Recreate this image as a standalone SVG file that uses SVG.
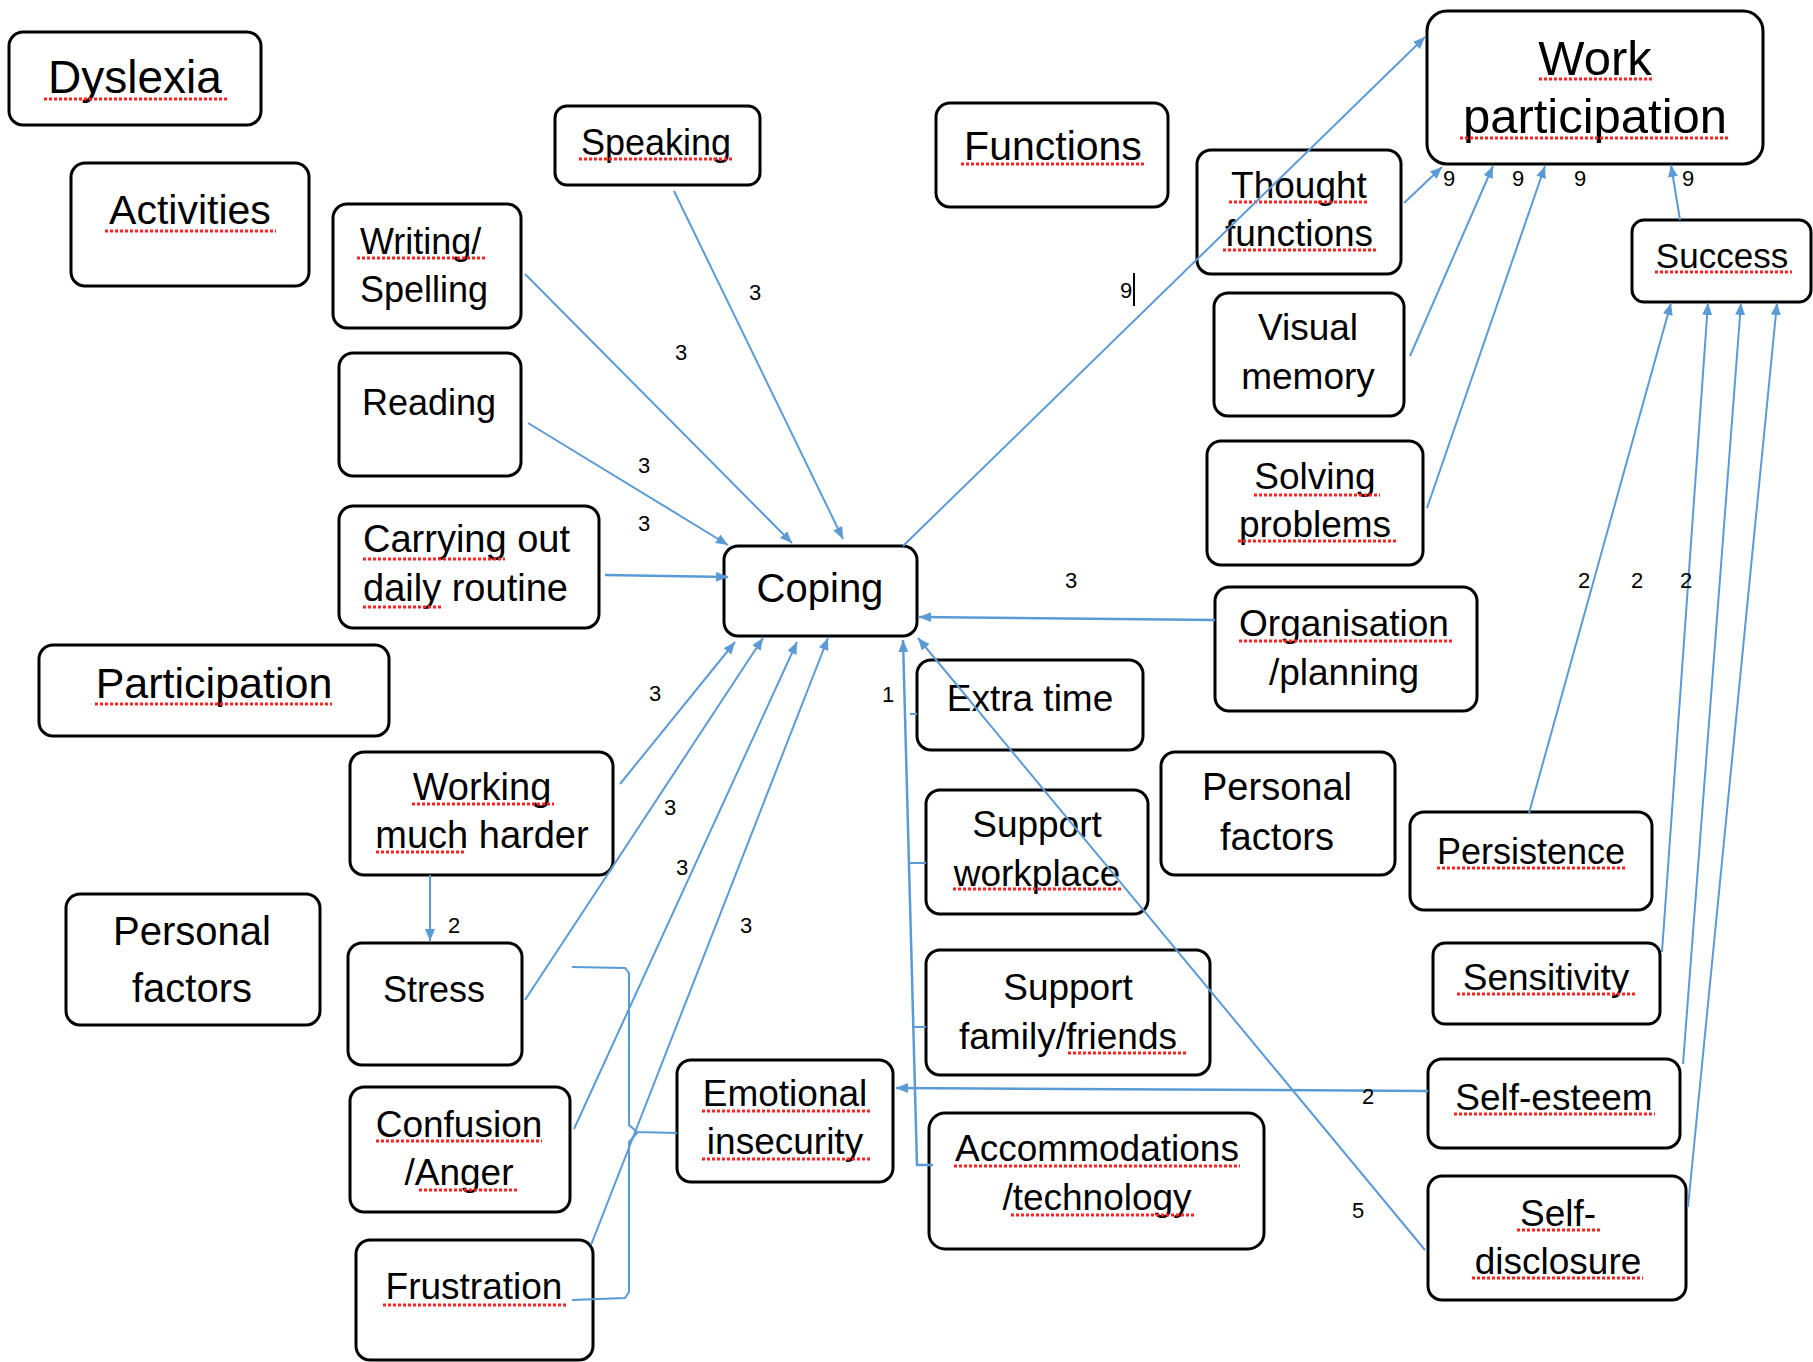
<svg xmlns="http://www.w3.org/2000/svg" width="1813" height="1362" viewBox="0 0 1813 1362">
<style>
.box{fill:#fff;stroke:#000;stroke-width:3}
.t{font-family:"Liberation Sans",Arial,sans-serif;fill:#000}
.m{text-anchor:middle}
.c{stroke:#5B9BD5;stroke-width:2;fill:none}
.lbl{font-family:"Liberation Sans",Arial,sans-serif;font-size:22px;fill:#000;text-anchor:middle}
.sq{stroke:#f22;stroke-width:3;stroke-dasharray:3 2;fill:none}
</style>
<defs>
<marker id="ah" markerUnits="userSpaceOnUse" markerWidth="14" markerHeight="12" refX="12" refY="5" orient="auto"><path d="M0,0 L12,5 L0,10 z" fill="#5B9BD5"/></marker>
</defs>
<rect width="1813" height="1362" fill="#fff"/>
<g id="nodes">
<g id="dyslexia"><rect class="box" x="9" y="32" width="252" height="93" rx="14"/><text class="t m" x="135" y="93" font-size="46">Dyslexia</text><path class="sq" d="M44,99 H228"/></g>
<g id="activities"><rect class="box" x="71" y="163" width="238" height="123" rx="14"/><text class="t m" x="190" y="224" font-size="41">Activities</text><path class="sq" d="M105,231 H276"/></g>
<g id="speaking"><rect class="box" x="555" y="106" width="205" height="79" rx="12"/><text class="t m" x="656" y="155" font-size="36">Speaking</text><path class="sq" d="M579,159 H732"/></g>
<g id="writing"><rect class="box" x="333" y="204" width="188" height="124" rx="14"/><text class="t" x="360" y="254" font-size="36">Writing/</text><text class="t" x="360" y="302" font-size="36">Spelling</text><path class="sq" d="M357,258 H485"/></g>
<g id="reading"><rect class="box" x="339" y="353" width="182" height="123" rx="14"/><text class="t" x="362" y="415" font-size="36">Reading</text></g>
<g id="carrying"><rect class="box" x="339" y="506" width="260" height="122" rx="14"/><text class="t" x="363" y="552" font-size="38">Carrying out</text><text class="t" x="363" y="601" font-size="38">daily routine</text><path class="sq" d="M363,559 H505 M363,607 H441"/></g>
<g id="coping"><rect class="box" x="724" y="546" width="193" height="90" rx="14"/><text class="t m" x="820" y="602" font-size="40">Coping</text></g>
<g id="functions"><rect class="box" x="936" y="103" width="232" height="104" rx="14"/><text class="t m" x="1053" y="160" font-size="41">Functions</text><path class="sq" d="M961,164 H1145"/></g>
<g id="work"><rect class="box" x="1427" y="11" width="336" height="153" rx="20"/><text class="t m" x="1595" y="75" font-size="49">Work</text><text class="t m" x="1595" y="133" font-size="49">participation</text><path class="sq" d="M1539,79 H1653 M1460,138 H1730"/></g>
<g id="thought"><rect class="box" x="1197" y="150" width="204" height="124" rx="14"/><text class="t m" x="1299" y="198" font-size="37">Thought</text><text class="t m" x="1299" y="246" font-size="37">functions</text><path class="sq" d="M1229,202 H1369 M1223,250 H1376"/></g>
<g id="visual"><rect class="box" x="1214" y="293" width="190" height="123" rx="14"/><text class="t m" x="1308" y="340" font-size="37">Visual</text><text class="t m" x="1308" y="389" font-size="37">memory</text></g>
<g id="solving"><rect class="box" x="1207" y="441" width="216" height="124" rx="14"/><text class="t m" x="1315" y="489" font-size="37">Solving</text><text class="t m" x="1315" y="537" font-size="37">problems</text><path class="sq" d="M1254,495 H1380 M1238,541 H1398"/></g>
<g id="organisation"><rect class="box" x="1215" y="587" width="262" height="124" rx="14"/><text class="t m" x="1344" y="636" font-size="37">Organisation</text><text class="t m" x="1344" y="685" font-size="37">/planning</text><path class="sq" d="M1239,641 H1454"/></g>
<g id="success"><rect class="box" x="1632" y="220" width="179" height="82" rx="12"/><text class="t m" x="1722" y="268" font-size="35">Success</text><path class="sq" d="M1655,272 H1792"/></g>
<g id="participation"><rect class="box" x="39" y="645" width="350" height="91" rx="14"/><text class="t m" x="214" y="698" font-size="43">Participation</text><path class="sq" d="M95,704 H332"/></g>
<g id="working"><rect class="box" x="350" y="752" width="263" height="123" rx="14"/><text class="t m" x="482" y="800" font-size="38">Working</text><text class="t m" x="482" y="848" font-size="38">much harder</text><path class="sq" d="M412,804 H554 M376,852 H465"/></g>
<g id="personal1"><rect class="box" x="66" y="894" width="254" height="131" rx="14"/><text class="t m" x="192" y="945" font-size="40">Personal</text><text class="t m" x="192" y="1002" font-size="40">factors</text></g>
<g id="stress"><rect class="box" x="348" y="943" width="174" height="122" rx="14"/><text class="t m" x="434" y="1002" font-size="36">Stress</text></g>
<g id="confusion"><rect class="box" x="350" y="1087" width="220" height="125" rx="14"/><text class="t m" x="459" y="1137" font-size="37">Confusion</text><text class="t m" x="459" y="1185" font-size="37">/Anger</text><path class="sq" d="M376,1141 H542 M419,1190 H519"/></g>
<g id="frustration"><rect class="box" x="356" y="1240" width="237" height="120" rx="14"/><text class="t m" x="474" y="1299" font-size="37">Frustration</text><path class="sq" d="M383,1305 H567"/></g>
<g id="emotional"><rect class="box" x="677" y="1060" width="216" height="122" rx="14"/><text class="t m" x="785" y="1106" font-size="37">Emotional</text><text class="t m" x="785" y="1154" font-size="37">insecurity</text><path class="sq" d="M702,1111 H870 M702,1159 H870"/></g>
<g id="extratime"><rect class="box" x="917" y="660" width="226" height="90" rx="14"/><text class="t m" x="1030" y="711" font-size="37">Extra time</text></g>
<g id="supportwork"><rect class="box" x="926" y="790" width="222" height="124" rx="14"/><text class="t m" x="1037" y="837" font-size="37">Support</text><text class="t m" x="1037" y="886" font-size="37">workplace</text><path class="sq" d="M953,889 H1123"/></g>
<g id="supportfamily"><rect class="box" x="926" y="950" width="284" height="125" rx="14"/><text class="t m" x="1068" y="1000" font-size="37">Support</text><text class="t m" x="1068" y="1049" font-size="37">family/friends</text><path class="sq" d="M1068,1053 H1187"/></g>
<g id="accommodations"><rect class="box" x="929" y="1113" width="335" height="136" rx="16"/><text class="t m" x="1097" y="1161" font-size="37">Accommodations</text><text class="t m" x="1097" y="1210" font-size="37">/technology</text><path class="sq" d="M954,1166 H1240 M1011,1215 H1196"/></g>
<g id="personal2"><rect class="box" x="1161" y="752" width="234" height="123" rx="14"/><text class="t m" x="1277" y="800" font-size="38">Personal</text><text class="t m" x="1277" y="850" font-size="38">factors</text></g>
<g id="persistence"><rect class="box" x="1410" y="812" width="242" height="98" rx="14"/><text class="t m" x="1531" y="864" font-size="36">Persistence</text><path class="sq" d="M1437,868 H1625"/></g>
<g id="sensitivity"><rect class="box" x="1433" y="943" width="227" height="81" rx="12"/><text class="t m" x="1546" y="990" font-size="37">Sensitivity</text><path class="sq" d="M1457,994 H1635"/></g>
<g id="selfesteem"><rect class="box" x="1428" y="1059" width="252" height="89" rx="14"/><text class="t m" x="1554" y="1110" font-size="37">Self-esteem</text><path class="sq" d="M1454,1114 H1655"/></g>
<g id="selfdisclosure"><rect class="box" x="1428" y="1176" width="258" height="124" rx="14"/><text class="t m" x="1558" y="1226" font-size="37">Self-</text><text class="t m" x="1558" y="1274" font-size="37">disclosure</text><path class="sq" d="M1517,1230 H1600 M1472,1278 H1643"/></g>
</g>
<g id="connectors">
<path class="c" marker-end="url(#ah)" d="M674,191 L843,539"/>
<path class="c" marker-end="url(#ah)" d="M525,274 L792,543"/>
<path class="c" marker-end="url(#ah)" d="M528,423 L728,545"/>
<path class="c" marker-end="url(#ah)" style="stroke-width:2.5" d="M605,575 L728,577"/>
<path class="c" marker-end="url(#ah)" d="M903,546 L1425,37"/>
<path class="c" marker-end="url(#ah)" d="M1404,203 L1442,167"/>
<path class="c" marker-end="url(#ah)" d="M1410,356 L1493,166"/>
<path class="c" marker-end="url(#ah)" d="M1427,508 L1545,166"/>
<path class="c" marker-end="url(#ah)" d="M1680,220 L1671,165"/>
<path class="c" marker-end="url(#ah)" d="M1529,813 L1671,303"/>
<path class="c" marker-end="url(#ah)" d="M1662,952 L1708,303"/>
<path class="c" marker-end="url(#ah)" d="M1683,1064 L1741,303"/>
<path class="c" marker-end="url(#ah)" d="M1688,1207 L1777,303"/>
<path class="c" marker-end="url(#ah)" style="stroke-width:2.5" d="M1215,620 L919,617"/>
<path class="c" marker-end="url(#ah)" d="M1425,1250 L918,638"/>
<path class="c" marker-end="url(#ah)" style="stroke-width:2.5" d="M1428,1091 L896,1088"/>
<path class="c" marker-end="url(#ah)" d="M620,784 L735,642"/>
<path class="c" marker-end="url(#ah)" d="M525,1000 L763,638"/>
<path class="c" marker-end="url(#ah)" d="M574,1129 L797,642"/>
<path class="c" marker-end="url(#ah)" d="M591,1245 L828,638"/>
<path class="c" marker-end="url(#ah)" d="M430,875 L430,941"/>
<path class="c" d="M572,967 L625,968 L629,973 L629,1125 L637,1132 L677,1133 M637,1133 L629,1142 L629,1292 L625,1298 L572,1300"/>
<path class="c" style="stroke-width:2.5" marker-end="url(#ah)" d="M933,1165 L917,1165 L903,640"/>
<path class="c" d="M910,714 H917 M910,863 H926 M912,1027 H926"/>
</g>
<g id="labels">
<text class="lbl" x="755" y="300">3</text>
<text class="lbl" x="681" y="360">3</text>
<text class="lbl" x="644" y="473">3</text>
<text class="lbl" x="644" y="531">3</text>
<text class="lbl" x="1126" y="298">9</text>
<path d="M1134,273 V306" stroke="#000" stroke-width="2"/>
<text class="lbl" x="1449" y="186">9</text>
<text class="lbl" x="1518" y="186">9</text>
<text class="lbl" x="1580" y="186">9</text>
<text class="lbl" x="1688" y="186">9</text>
<text class="lbl" x="1584" y="588">2</text>
<text class="lbl" x="1637" y="588">2</text>
<text class="lbl" x="1686" y="588">2</text>
<text class="lbl" x="1071" y="588">3</text>
<text class="lbl" x="888" y="702">1</text>
<text class="lbl" x="1358" y="1218">5</text>
<text class="lbl" x="1368" y="1104">2</text>
<text class="lbl" x="655" y="701">3</text>
<text class="lbl" x="670" y="815">3</text>
<text class="lbl" x="682" y="875">3</text>
<text class="lbl" x="746" y="933">3</text>
<text class="lbl" x="454" y="933">2</text>
</g>
</svg>
